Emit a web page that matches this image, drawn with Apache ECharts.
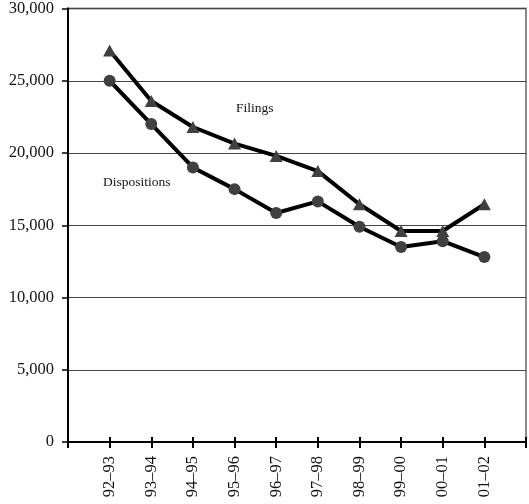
<!DOCTYPE html>
<html>
<head>
<meta charset="utf-8">
<script src="https://cdn.jsdelivr.net/npm/echarts@6/dist/echarts.min.js"></script>
<style>
html,body{margin:0;padding:0;background:#fff;}
#chart{width:529px;height:504px;}
</style>
</head>
<body>
<div id="chart"></div>
<script>
const categories = ['', '92–93', '93–94', '94–95', '95–96', '96–97', '97–98', '98–99', '99–00', '00–01', '01–02', ''];
const filings = [null, 27100, 23600, 21800, 20650, 19800, 18750, 16450, 14600, 14600, 16450, null];
const dispositions = [null, 25000, 22000, 19000, 17500, 15850, 16650, 14900, 13500, 13900, 12800, null];
const yTicks = [0, 5000, 10000, 15000, 20000, 25000, 30000];

const FONT = "'Liberation Serif', 'Times New Roman', serif";
const chart = echarts.init(document.getElementById('chart'), null, {renderer: 'canvas'});
chart.setOption({
  animation: false,
  backgroundColor: '#fff',
  grid: {left: 68, right: 3, top: 7, bottom: 62, show: true, borderColor: '#8a8a8a', borderWidth: 2, backgroundColor: 'transparent'},
  xAxis: [{
    type: 'category', data: categories, boundaryGap: false,
    axisLine: {lineStyle: {color: '#000', width: 2}},
    axisTick: {show: true, length: 6, lineStyle: {color: '#000', width: 2}, alignWithLabel: true, interval: 0},
    axisLabel: {rotate: 90, interval: 0, margin: 14, color: '#111', fontFamily: FONT, fontSize: 16.5},
    splitLine: {show: false}
  }, {
    type: 'category', data: categories, boundaryGap: false, position: 'bottom',
    axisLine: {show: false},
    axisTick: {show: true, inside: true, length: 5, lineStyle: {color: '#000', width: 2}, interval: 0},
    axisLabel: {show: false},
    splitLine: {show: false}
  }],
  yAxis: {
    type: 'value', min: 0, max: 30000, interval: 5000,
    axisLine: {show: true, lineStyle: {color: '#000', width: 2}},
    axisTick: {show: true, length: 6, lineStyle: {color: '#000', width: 1.5}},
    axisLabel: {margin: 14, color: '#111', fontFamily: FONT, fontSize: 16.5,
      formatter: v => yTicks.includes(v) ? v.toLocaleString('en-US') : ''},
    splitLine: {show: true, lineStyle: {color: '#444', width: 1}}
  },
  series: [{
    name: 'Filings', type: 'line', data: filings, xAxisIndex: 0,
    symbol: 'triangle', symbolSize: [13, 12], showAllSymbol: true,
    lineStyle: {color: '#000', width: 4},
    itemStyle: {color: '#404040', borderWidth: 0},
    z: 3
  }, {
    name: 'Dispositions', type: 'line', data: dispositions, xAxisIndex: 0,
    symbol: 'circle', symbolSize: 12, showAllSymbol: true,
    lineStyle: {color: '#000', width: 4},
    itemStyle: {color: '#404040', borderWidth: 0},
    z: 4
  }],
  graphic: [
    {type: 'text', left: 236, top: 101, style: {text: 'Filings', font: "13.5px " + FONT, fill: '#111'}},
    {type: 'text', left: 103, top: 175, style: {text: 'Dispositions', font: "13.5px " + FONT, fill: '#111'}}
  ]
});
</script>
</body>
</html>
